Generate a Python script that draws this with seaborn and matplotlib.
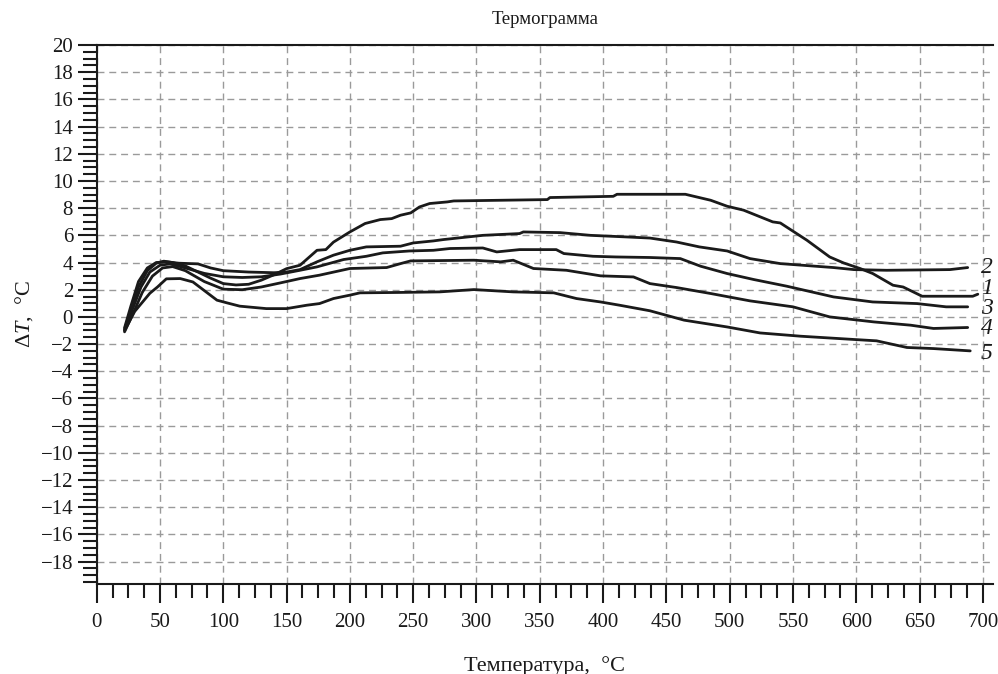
import numpy as np
import pandas as pd
import matplotlib
matplotlib.use("Agg")
import matplotlib.pyplot as plt
import seaborn as sns
from matplotlib.ticker import MultipleLocator

# ---- data ----
c1_x = [22, 27, 33, 40, 47, 53, 60, 70, 80, 90, 100, 110, 120, 130, 140, 150, 160.6, 174, 181, 187,
        200, 212, 224, 233, 240, 248, 255, 263, 277, 282, 356, 358, 408, 411, 465, 485, 498, 511,
        534, 540, 561, 579, 590, 603, 613, 629, 637, 652, 692, 696]
c1_y = [-0.9, 0.5, 2.2, 3.4, 3.95, 4.1, 4.0, 3.75, 3.3, 2.85, 2.45, 2.35, 2.4, 2.7, 3.1, 3.55, 3.8, 4.9, 4.95, 5.5,
        6.25, 6.87, 7.16, 7.23, 7.48, 7.65, 8.09, 8.34, 8.46, 8.53, 8.63, 8.78, 8.87, 9.02, 9.02, 8.58, 8.14, 7.85,
        6.99, 6.91, 5.64, 4.41, 3.97, 3.56, 3.19, 2.33, 2.2, 1.52, 1.52, 1.67]

c2_x = [22, 27, 33, 40, 47, 55, 65, 80, 90, 100, 120, 140, 150, 160.6, 174, 187, 200, 213, 240, 250,
        266, 274, 305, 334, 337, 366, 390, 419, 437, 458, 476, 498, 516, 540, 582, 598, 624, 674, 688]
c2_y = [-0.8, 0.8, 2.6, 3.6, 4.0, 4.05, 3.95, 3.9, 3.6, 3.4, 3.3, 3.25, 3.3, 3.48, 4.05, 4.54, 4.9, 5.15, 5.2, 5.44,
        5.59, 5.69, 6.0, 6.13, 6.25, 6.2, 6.0, 5.88, 5.8, 5.51, 5.15, 4.85, 4.29, 3.92, 3.63, 3.48, 3.43, 3.48, 3.63]

c3_x = [22, 28, 35, 42, 50, 58, 70, 85, 100, 115, 130, 145, 160.6, 174, 195, 213, 226, 247, 266, 279,
        305, 316, 334, 363, 369, 392, 410, 437, 461, 477, 498, 519, 545, 582, 613, 648, 671, 688]
c3_y = [-1.0, 0.5, 2.2, 3.3, 3.8, 3.9, 3.6, 3.2, 2.95, 2.9, 2.95, 3.15, 3.43, 3.68, 4.22, 4.46, 4.71, 4.85, 4.9, 5.03,
        5.07, 4.78, 4.95, 4.95, 4.66, 4.46, 4.41, 4.37, 4.29, 3.73, 3.19, 2.75, 2.26, 1.47, 1.10, 0.98, 0.74, 0.74]

c4_x = [22, 29, 36, 44, 52, 60, 70, 85, 100, 115, 130, 145, 160.6, 176, 200, 229, 240, 248, 298, 319,
        329, 345, 371, 398, 424, 437, 458, 485, 516, 550, 579, 614, 643, 661, 688]
c4_y = [-1.1, 0.3, 1.8, 3.0, 3.6, 3.7, 3.4, 2.6, 2.04, 2.0, 2.2, 2.5, 2.82, 3.07, 3.56, 3.63, 3.92, 4.12, 4.17, 4.05,
        4.17, 3.56, 3.43, 3.02, 2.94, 2.45, 2.16, 1.72, 1.18, 0.74, 0.0, -0.37, -0.61, -0.85, -0.78]

c5_x = [22, 30, 42, 48, 55, 66, 76, 95, 103, 113, 134, 150, 166, 176, 187, 200, 208, 240, 271, 298,
        329, 361, 379, 398, 413, 437, 464, 498, 524, 556, 598, 616, 640, 661, 690]
c5_y = [-1.0, 0.4, 1.74, 2.2, 2.8, 2.82, 2.57, 1.23, 1.03, 0.79, 0.61, 0.61, 0.86, 0.98, 1.35, 1.6, 1.77, 1.8, 1.84, 2.01,
        1.84, 1.77, 1.35, 1.10, 0.86, 0.45, -0.24, -0.74, -1.18, -1.42, -1.66, -1.76, -2.25, -2.33, -2.5]

curve_names = ["1", "2", "3", "4", "5"]
label_y = [2.1, 3.65, 0.63, -0.83, -2.67]

x_ticks = list(range(0, 701, 50))
y_ticks = list(range(-18, 21, 2))

title_text = "Термограмма"
xlabel_text = "Температура,  °C"

# ---- build table ----
xs = [c1_x, c2_x, c3_x, c4_x, c5_x]
ys = [c1_y, c2_y, c3_y, c4_y, c5_y]
frames = []
for name, cx, cy in zip(curve_names, xs, ys):
    frames.append(pd.DataFrame({"T": cx, "dT": cy, "curve": name}))
df = pd.concat(frames, ignore_index=True)

sns.set_style("white")
plt.rcParams["font.family"] = ["Liberation Serif", "DejaVu Serif"]
plt.rcParams["mathtext.fontset"] = "custom"
plt.rcParams["mathtext.it"] = "Liberation Serif:italic"
plt.rcParams["mathtext.rm"] = "Liberation Serif"

fig = plt.figure(figsize=(9.98, 6.74), dpi=100)
ax = fig.add_axes([0.0969, 0.1335, 0.8981, 0.7997])

sns.lineplot(data=df, x="T", y="dT", units="curve", estimator=None, sort=False,
             color="#1a1a1a", linewidth=2.0, ax=ax, legend=False)

ax.set_xlim(0, 708)
ax.set_ylim(-19.65, 20)
ax.set_xticks(x_ticks)
ax.set_yticks(y_ticks)
ax.set_xticklabels([str(v) for v in x_ticks])
ax.set_yticklabels([str(v).replace("-", "\u2212") for v in y_ticks])
ax.xaxis.set_minor_locator(MultipleLocator(12.5))
ax.yaxis.set_minor_locator(MultipleLocator(0.5))

ax.grid(True, which="major", linestyle=(0, (5, 3.5)), color="#9a9a9a", linewidth=1.0)
ax.tick_params(axis="both", which="both", bottom=True, left=True, top=False, right=False)
ax.tick_params(axis="both", which="major", direction="out", length=14, width=1.5,
               labelsize=15, colors="#1a1a1a")
ax.tick_params(axis="both", which="minor", direction="out", length=10, width=1.5, colors="#1a1a1a")
ax.tick_params(axis="x", which="major", pad=7)
ax.tick_params(axis="y", which="major", pad=3)

for side in ["left", "bottom", "top"]:
    ax.spines[side].set_visible(True)
    ax.spines[side].set_linewidth(1.5)
    ax.spines[side].set_color("#1a1a1a")
ax.spines["right"].set_visible(False)

ax.set_title(title_text, fontsize=13.5, pad=15, color="#1a1a1a")
ax.set_xlabel(xlabel_text, fontsize=16, labelpad=17, color="#1a1a1a")
ax.set_ylabel(r"$\Delta\mathit{T}$,  °C", fontsize=16, labelpad=4, color="#1a1a1a")

for name, ly in zip(curve_names, label_y):
    ax.text(703, ly, name, fontsize=17, fontstyle="italic", ha="center", va="center",
            color="#1a1a1a", clip_on=False)

fig.savefig("out.png", dpi=100)
